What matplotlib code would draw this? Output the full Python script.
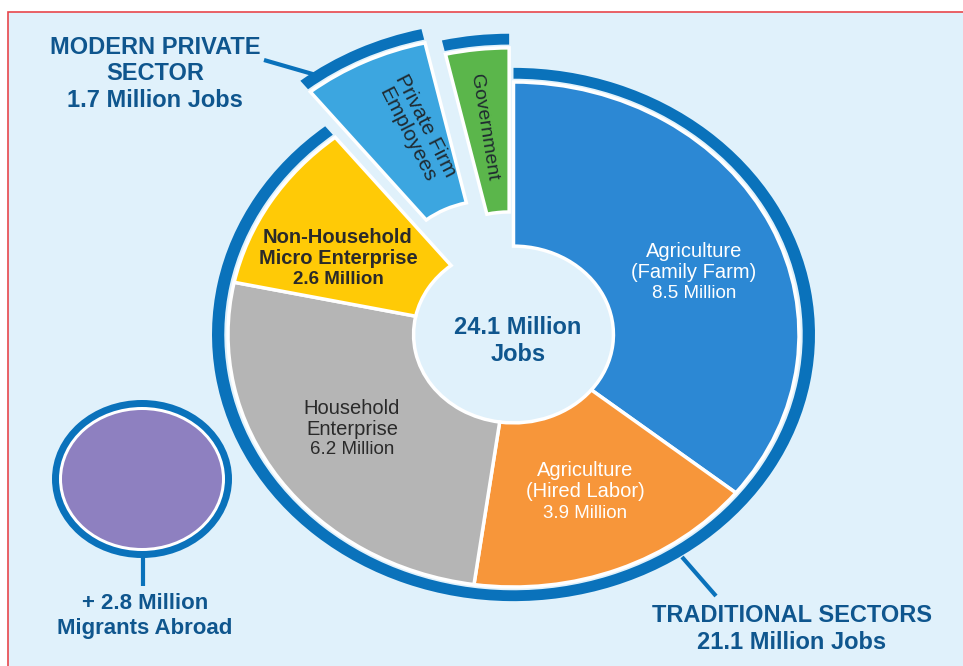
import matplotlib
matplotlib.use("Agg")
import matplotlib.pyplot as plt
from matplotlib.patches import Wedge, Ellipse, Rectangle

plt.rcParams['font.family'] = ['Liberation Sans', 'DejaVu Sans']

# jobs by sector, millions (clockwise from 12 o'clock)
sectors = ["Agriculture\n(Family Farm)", "Agriculture\n(Hired Labor)",
           "Household\nEnterprise", "Non-Household\nMicro Enterprise",
           "Private Firm\nEmployees", "Government"]
jobs = [8.5, 3.9, 6.2, 2.6, 1.7, 0.85]
is_traditional = [True, True, True, True, False, False]
total_jobs = 24.1
traditional_jobs = 21.1
modern_private_jobs = 1.7
migrants_abroad = 2.8

colors = ["#2c88d4", "#f7963a", "#b5b5b5", "#ffca06", "#3ca6e0", "#5bb64b"]
explode = [0, 0, 0, 0, 0.2, 0.136]
BG = "#e0f1fb"
RING = "#0a72bb"
NAVY = "#0f568e"
DARK = "#2a2a2a"

W, H = 963, 666
fig = plt.figure(figsize=(W / 100, H / 100), dpi=100)
fig.patch.set_facecolor("white")

# background panel in pixel coords
bg = fig.add_axes([0, 0, 1, 1], zorder=0)
bg.set_xlim(0, W)
bg.set_ylim(H, 0)
bg.axis("off")
bg.add_patch(Rectangle((8, 12), W, H, facecolor=BG, edgecolor="#e8474c", lw=1.2))

# donut axes, stretched a little wider than tall
cx, cy, rx, ry = 513.5, 334.5, 285.5, 252.5
span = 1.3
ax = fig.add_axes([(cx - span * rx) / W, (H - cy - span * ry) / H,
                   2 * span * rx / W, 2 * span * ry / H], zorder=1)
ax.patch.set_alpha(0)
wedges, _ = ax.pie(jobs, colors=colors, startangle=90, counterclock=False,
                   explode=explode, radius=1,
                   wedgeprops=dict(width=0.65, edgecolor="white", linewidth=2.5))
ax.set_aspect("auto")
ax.set_xlim(-span, span)
ax.set_ylim(-span, span)
ax.axis("off")

# outer ring round the traditional sectors
trad_share = sum(j for j, t in zip(jobs, is_traditional) if t) / sum(jobs)
ax.add_patch(Wedge((0, 0), 1.056, 90 - 360 * trad_share, 90, width=0.043,
                   facecolor=RING, edgecolor="none"))
# caps on the pulled-out modern slices
for w, t in zip(wedges, is_traditional):
    if not t:
        ax.add_patch(Wedge(w.center, 1.056, w.theta1, w.theta2, width=0.043,
                           facecolor=RING, edgecolor="none"))

# overlay for labels, leader lines and the migrants bubble
ov = fig.add_axes([0, 0, 1, 1], zorder=2)
ov.set_xlim(0, W)
ov.set_ylim(H, 0)
ov.axis("off")
ov.patch.set_alpha(0)

ov.add_patch(Ellipse((142, 479), 180, 158, facecolor=RING, edgecolor="none"))
ov.add_patch(Ellipse((142, 479), 166, 144, facecolor="white", edgecolor="none"))
ov.add_patch(Ellipse((142, 479), 160, 138, facecolor="#8e80c0", edgecolor="none"))
ov.plot([143, 143], [557, 586], color=RING, lw=3, solid_capstyle="butt")

ov.plot([264, 316], [60, 75], color=RING, lw=3, solid_capstyle="butt")
ov.plot([682, 716], [557, 596], color=RING, lw=3, solid_capstyle="butt")

ov.text(155, 74, f"MODERN PRIVATE\nSECTOR\n{modern_private_jobs} Million Jobs",
        ha="center", va="center", fontsize=17, fontweight="bold", color=NAVY,
        linespacing=1.2)
ov.text(792, 629, f"TRADITIONAL SECTORS\n{traditional_jobs} Million Jobs",
        ha="center", va="center", fontsize=17, fontweight="bold", color=NAVY,
        linespacing=1.2)
ov.text(145, 616, f"+ {migrants_abroad} Million\nMigrants Abroad",
        ha="center", va="center", fontsize=16, fontweight="bold", color=NAVY,
        linespacing=1.2)
ov.text(518, 341, f"{total_jobs} Million\nJobs", ha="center", va="center",
        fontsize=17, fontweight="bold", color=NAVY, linespacing=1.2)

# slice labels: (x, name centre y, value y, colour, weight)
label_pos = [(694, 262, 294, "white", "normal"),
             (585, 481, 514, "white", "normal"),
             (352, 419, 450, DARK, "normal"),
             (338, 248, 279, DARK, "bold")]
for name, val, (x, yn, yv, c, wt) in zip(sectors, jobs, label_pos):
    ov.text(x, yn, name, ha="center", va="center", fontsize=14.5, color=c,
            fontweight=wt, linespacing=1.15)
    ov.text(x, yv, f"{val} Million", ha="center", va="center", fontsize=13.5,
            color=c, fontweight=wt)

ov.text(416, 130, sectors[4], ha="center", va="center", fontsize=15,
        color="#1f2a30", rotation=-63, rotation_mode="anchor", linespacing=1.1)
ov.text(484, 127, sectors[5], ha="center", va="center", fontsize=14,
        color="#1f2a30", rotation=-81, rotation_mode="anchor")

fig.savefig("out.png", dpi=100)
